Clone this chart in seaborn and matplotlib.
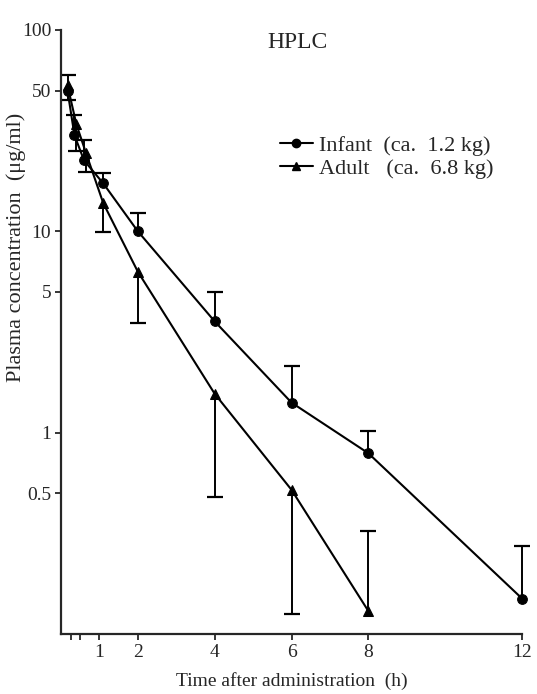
import numpy as np
import pandas as pd
import matplotlib
matplotlib.use('Agg')
import matplotlib.pyplot as plt
from matplotlib.lines import Line2D
import seaborn as sns

# values (log scale)
infant_t = [0.17, 0.35, 0.6, 1.1, 2, 4, 6, 8, 12]
infant_c = [50, 30, 22.5, 17.3, 10, 3.57, 1.41, 0.79, 0.15]
infant_hi = [60, 37.8, 28.4, 19.5, 12.3, 5.0, 2.15, 1.02, 0.274]

adult_t = [0.17, 0.4, 0.65, 1.1, 2, 4, 6, 8]
adult_c = [53, 34, 24.5, 13.8, 6.3, 1.56, 0.52, 0.13]
adult_lo = [45, 25.0, 19.6, 9.9, 3.52, 0.48, 0.126, 0.13]
adult_hi_8h = 0.325

x_ticks = [0.25, 0.5, 1, 2, 4, 6, 8, 12]
x_labels = ['', '', '1', '2', '4', '6', '8', '12']
y_ticks = [0.5, 1, 5, 10, 50, 100]
y_labels = ['0.5', '1', '5', '10', '50', '100']

df = pd.concat([
    pd.DataFrame({'time': infant_t, 'conc': infant_c, 'group': 'Infant'}),
    pd.DataFrame({'time': adult_t, 'conc': adult_c, 'group': 'Adult'}),
])

sns.set_style('ticks')
plt.rcParams['font.family'] = ['Liberation Serif', 'DejaVu Serif']

fig = plt.figure(figsize=(5.37, 6.94), dpi=100)
ax = fig.add_axes([0.1136, 0.0865, 0.8585, 0.8703])

# error bars (one-sided, as in the original)
eb = dict(color='black', zorder=2, clip_on=False)
ax.vlines(infant_t, infant_c, infant_hi, lw=1.4, **eb)
ax.plot(infant_t, infant_hi, ls='none', marker='_', ms=11, mew=1.6, **eb)
ax.vlines(adult_t, adult_lo, adult_c, lw=1.4, **eb)
ax.plot(adult_t[:-1], adult_lo[:-1], ls='none', marker='_', ms=11, mew=1.6, **eb)
ax.vlines([adult_t[-1]], [adult_c[-1]], [adult_hi_8h], lw=1.4, **eb)
ax.plot([adult_t[-1]], [adult_hi_8h], ls='none', marker='_', ms=11, mew=1.6, **eb)

sns.lineplot(data=df, x='time', y='conc', hue='group', style='group',
             markers={'Infant': 'o', 'Adult': '^'}, dashes=False,
             palette={'Infant': 'black', 'Adult': 'black'},
             markersize=7, linewidth=1.5, markeredgecolor='black',
             legend=False, ax=ax, zorder=3, clip_on=False)

ax.set_yscale('log')
ax.set_xlim(0, 12)
ax.set_ylim(0.1, 100)
ax.set_xticks(x_ticks)
ax.set_xticklabels(x_labels)
ax.set_yticks(y_ticks)
ax.set_yticklabels(y_labels)
ax.yaxis.set_minor_locator(matplotlib.ticker.NullLocator())
ax.tick_params(axis='both', labelsize=14, width=1.3, length=4, direction='out', pad=3)
for s in ['left', 'bottom']:
    ax.spines[s].set_linewidth(1.6)
sns.despine(ax=ax)

ax.set_xlabel('Time after administration  (h)', fontsize=14, labelpad=8)
ax.set_ylabel('Plasma concentration  (μg/ml)', fontsize=16)
ax.yaxis.set_label_coords(-0.076, 0.64)
ax.text(0.514, 0.98, 'HPLC', transform=ax.transAxes, ha='center', va='center', fontsize=17)

handles = [
    Line2D([], [], color='black', lw=1.5, marker='o', ms=6),
    Line2D([], [], color='black', lw=1.5, marker='^', ms=6),
]
ax.legend(handles, ['Infant  (ca.  1.2 kg)', 'Adult   (ca.  6.8 kg)'],
          loc='upper left', bbox_to_anchor=(0.455, 0.84), frameon=False,
          fontsize=16, handlelength=1.5, handletextpad=0.25, labelspacing=0.1,
          borderaxespad=0)

fig.savefig('out.png', dpi=100)
